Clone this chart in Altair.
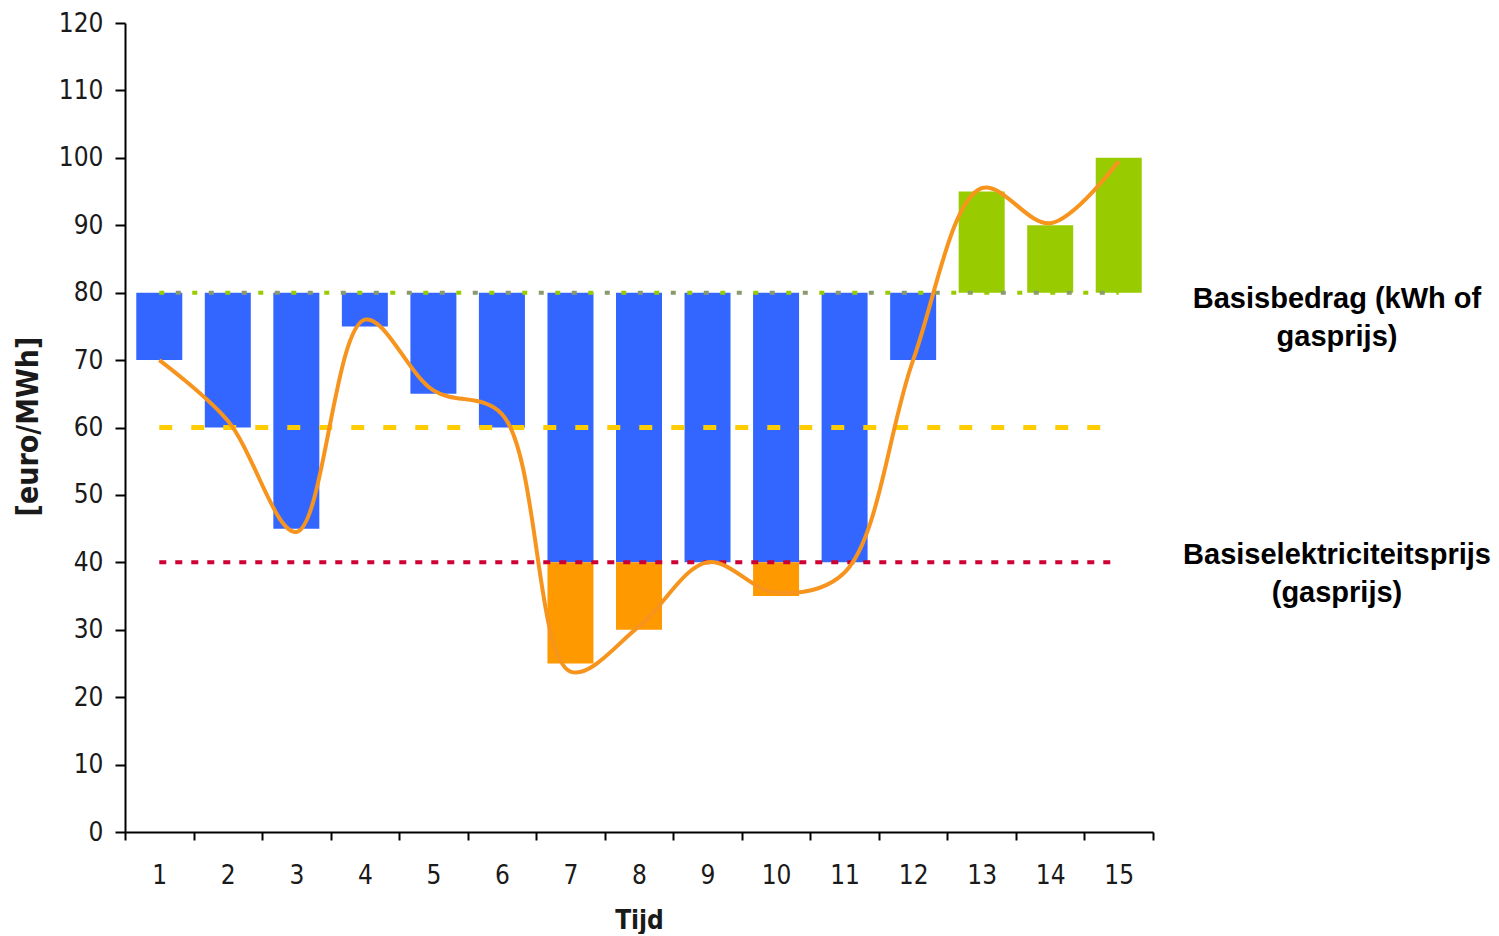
import altair as alt
import pandas as pd

# ---- data ----
time = list(range(1, 16))
price = [70, 60, 45, 75, 65, 60, 25, 30, 40, 35, 40, 70, 95, 90, 100]
curve = [70, 61, 44.5, 76, 65.5, 62, 23.8, 30.5, 40, 35.5, 38.5, 70, 95.5, 90.3, 99.5]
base_amount = 80      # Basisbedrag
mid_level = 60        # yellow dashed line
elec_price = 40       # Basiselektriciteitsprijs
y_ticks = list(range(0, 121, 10))
note_top = "Basisbedrag (kWh of\ngasprijs)"
note_bottom = "Basiselektriciteitsprijs\n(gasprijs)"

# ---- build tables ----
bar_rows = []
for t, p in zip(time, price):
    if p < base_amount:
        bar_rows.append({"t": t, "lo": max(p, elec_price), "hi": base_amount, "kind": "below"})
        if p < elec_price:
            bar_rows.append({"t": t, "lo": p, "hi": elec_price, "kind": "under"})
    elif p > base_amount:
        bar_rows.append({"t": t, "lo": base_amount, "hi": p, "kind": "above"})
bars_df = pd.DataFrame(bar_rows)
curve_df = pd.DataFrame({"t": time, "v": curve})
rule_df = pd.DataFrame({
    "x0": [time[0]] * 3,
    "x1": [time[-1]] * 3,
    "level": [base_amount, mid_level, elec_price],
    "name": ["base", "mid", "elec"],
})
note_top_df = pd.DataFrame({"level": [base_amount], "label": [note_top]})
note_bottom_df = pd.DataFrame({"level": [elec_price], "label": [note_bottom]})

TICK_FONT = "DejaVu Sans Condensed, DejaVu Sans, sans-serif"

xs = alt.Scale(domain=[0.5, 15.5], nice=False, zero=False, padding=0)
ys = alt.Scale(domain=[0, 120], nice=False, zero=True, padding=0)

y_axis = alt.Axis(
    values=y_ticks, title="[euro/MWh]", grid=False,
    tickSize=10, tickWidth=2, tickColor="black",
    domainColor="black", domainWidth=2,
    labelFont=TICK_FONT, labelFontSize=26, labelColor="#1a1a1a", labelPadding=12,
    titleFont=TICK_FONT, titleFontSize=30, titleFontWeight="bold", titleColor="#1a1a1a",
    titleAngle=-90, titleX=-97, titleY=403, titleAlign="center", titleBaseline="middle",
)

tick_axis = alt.Axis(
    values=[t - 0.5 for t in time] + [time[-1] + 0.5], labels=False, title=None,
    orient="bottom", grid=False, tickSize=8, tickWidth=2, tickColor="black",
    domainColor="black", domainWidth=2,
)
label_axis = alt.Axis(
    values=time, orient="bottom", ticks=False, tickSize=0, domain=False, grid=False,
    labelFont=TICK_FONT, labelFontSize=26, labelColor="#1a1a1a", labelPadding=30,
    title="Tijd", titleFont=TICK_FONT, titleFontSize=26, titleFontWeight="bold",
    titleColor="#1a1a1a", titleX=514, titleY=88, titleAlign="center", titleBaseline="middle",
)

bars = alt.Chart(bars_df).mark_bar(size=46).encode(
    x=alt.X("t:Q", scale=xs, axis=tick_axis),
    y=alt.Y("lo:Q", scale=ys, axis=y_axis),
    y2="hi:Q",
    color=alt.Color("kind:N", scale=alt.Scale(domain=["below", "under", "above"],
                                              range=["#3366FF", "#FF9900", "#99CC00"]), legend=None),
)

def rule_layer(name, color, width, dash, offset=0):
    return alt.Chart(rule_df).transform_filter(alt.datum.name == name).mark_rule(
        color=color, strokeWidth=width, strokeDash=dash, strokeDashOffset=offset
    ).encode(
        x=alt.X("x0:Q", scale=xs, axis=None),
        x2="x1:Q",
        y=alt.Y("level:Q", scale=ys, axis=y_axis),
    )

rule_base_a = rule_layer("base", "#99CC00", 4, [5, 28], 0)
rule_base_b = rule_layer("base", "#8A9A6A", 4, [5, 28], 16.5)
rule_mid = rule_layer("mid", "#FFCC00", 5, [13, 19])
rule_elec = rule_layer("elec", "#CC0033", 4, [7, 9])

line = alt.Chart(curve_df).mark_line(
    interpolate="catmull-rom", strokeWidth=4, color="#F7941E"
).encode(
    x=alt.X("t:Q", scale=xs, axis=label_axis),
    y=alt.Y("v:Q", scale=ys, axis=y_axis),
)

def note_layer(df, dy):
    return alt.Chart(df).mark_text(
        font="Liberation Sans, Arial, sans-serif", fontSize=29, fontWeight="bold",
        lineBreak="\n", lineHeight=38, align="center", baseline="middle", dy=dy, color="black",
    ).encode(
        x=alt.value(1212),
        y=alt.Y("level:Q", scale=ys, axis=y_axis),
        text="label:N",
    )

chart = alt.layer(
    bars, rule_base_a, rule_base_b, rule_mid, rule_elec, line,
    note_layer(note_top_df, 6), note_layer(note_bottom_df, -7),
).resolve_axis(x="independent").properties(
    width=1028, height=809,
    autosize=alt.AutoSizeParams(type="none"),
    padding={"left": 117, "top": 15, "right": 338, "bottom": 102},
).configure_view(stroke=None)

chart.save("out.html", embed_options={"renderer": "svg", "actions": False})
